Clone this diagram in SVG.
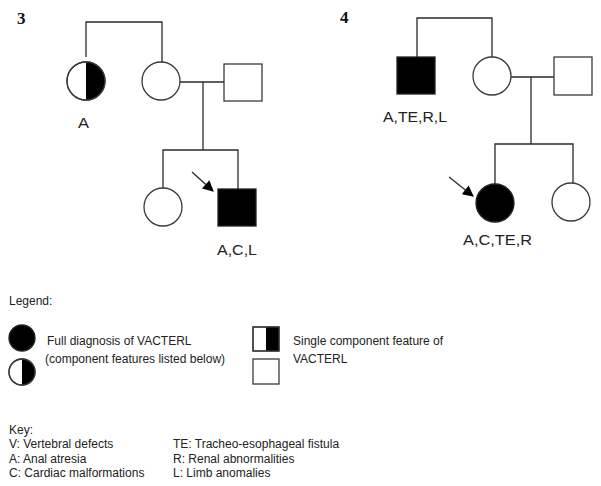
<svg xmlns="http://www.w3.org/2000/svg" width="601" height="486" viewBox="0 0 601 486">
<defs>
<style>
.ln{stroke:#2a2a2a;stroke-width:1.3;fill:none}
.sym{stroke:#3a3a3a;stroke-width:1.3;fill:#fff}
.blk{fill:#000;stroke:#222;stroke-width:1.3}
.half{fill:#000;stroke:none}
.num{font-family:"Liberation Serif",serif;font-weight:bold;font-size:17px;fill:#111}
.lab{font-family:"Liberation Sans",Arial,sans-serif;font-size:14px;fill:#222}
.txt{font-family:"Liberation Sans",Arial,sans-serif;font-size:12px;fill:#222}
</style>
<marker id="ah" viewBox="0 0 10 10" refX="9" refY="5" markerWidth="12" markerHeight="11" markerUnits="userSpaceOnUse" orient="auto">
<path d="M0,0 L10,5 L0,10 z" fill="#000"/>
</marker>
</defs>

<text class="num" x="17" y="24">3</text>
<text class="num" x="340" y="23">4</text>

<g id="connectors">
<!-- pedigree 3 -->
<polyline class="ln" points="86,57 86,22 162,22 162,62"/>
<line class="ln" x1="180" y1="82" x2="224" y2="82"/>
<line class="ln" x1="203" y1="82" x2="203" y2="150"/>
<polyline class="ln" points="163,188 163,150 238,150 238,189"/>
<line class="ln" x1="192" y1="172" x2="213" y2="191" stroke="#000" stroke-width="1.8" marker-end="url(#ah)"/>
<!-- pedigree 4 -->
<polyline class="ln" points="417,57 417,18 492,18 492,57"/>
<line class="ln" x1="511" y1="77" x2="554" y2="77"/>
<line class="ln" x1="531" y1="77" x2="531" y2="144"/>
<polyline class="ln" points="495,184 495,144 573,144 573,183"/>
<line class="ln" x1="449" y1="177" x2="473" y2="196" stroke="#000" stroke-width="1.8" marker-end="url(#ah)"/>
</g>

<!-- pedigree 3 nodes -->
<g id="p3-aunt">
<circle class="sym" cx="86" cy="81" r="19"/>
<path class="half" d="M86,62 A19,19 0 0 1 86,100 z"/>
<circle cx="86" cy="81" r="19" fill="none" stroke="#3a3a3a" stroke-width="1.3"/>
<text class="lab" x="78" y="128" textLength="11" lengthAdjust="spacingAndGlyphs">A</text>
</g>
<g id="p3-mother"><circle class="sym" cx="161" cy="81" r="19"/></g>
<g id="p3-father"><rect class="sym" x="224" y="64" width="38" height="37"/></g>
<g id="p3-sister"><circle class="sym" cx="163" cy="207" r="19"/></g>
<g id="p3-proband">
<rect class="blk" x="218" y="189" width="38" height="37"/>
<text class="lab" x="217" y="255" textLength="40" lengthAdjust="spacingAndGlyphs">A,C,L</text>
</g>

<!-- pedigree 4 nodes -->
<g id="p4-uncle">
<rect class="blk" x="397" y="57" width="38" height="37"/>
<text class="lab" x="383" y="122" textLength="64" lengthAdjust="spacingAndGlyphs">A,TE,R,L</text>
</g>
<g id="p4-mother"><circle class="sym" cx="492" cy="76" r="19"/></g>
<g id="p4-father"><rect class="sym" x="554" y="57" width="38" height="38"/></g>
<g id="p4-proband">
<circle class="blk" cx="495" cy="203" r="19"/>
<text class="lab" x="463" y="245" textLength="69" lengthAdjust="spacingAndGlyphs">A,C,TE,R</text>
</g>
<g id="p4-sister"><circle class="sym" cx="571" cy="202" r="19"/></g>

<!-- legend -->
<g id="legend">
<text class="txt" x="9" y="305">Legend:</text>
<circle class="blk" cx="22" cy="338" r="13"/>
<circle class="sym" cx="22" cy="372" r="13"/>
<path class="half" d="M22,359 A13,13 0 0 1 22,385 z"/>
<circle cx="22" cy="372" r="13" fill="none" stroke="#3a3a3a" stroke-width="1.3"/>
<text class="txt" x="47" y="345">Full diagnosis of VACTERL</text>
<text class="txt" x="45" y="363">(component features listed below)</text>
<rect class="sym" x="253" y="327" width="26" height="24"/>
<rect class="half" x="266" y="327" width="13" height="24"/>
<rect x="253" y="327" width="26" height="24" fill="none" stroke="#3a3a3a" stroke-width="1.3"/>
<rect class="sym" x="253" y="359" width="26" height="25"/>
<text class="txt" x="293" y="345">Single component feature of</text>
<text class="txt" x="293" y="363">VACTERL</text>
</g>

<g id="key">
<text class="txt" x="9" y="434">Key:</text>
<text class="txt" x="9" y="448">V: Vertebral defects</text>
<text class="txt" x="9" y="463">A: Anal atresia</text>
<text class="txt" x="9" y="477">C: Cardiac malformations</text>
<text class="txt" x="173" y="448">TE: Tracheo-esophageal fistula</text>
<text class="txt" x="173" y="463">R: Renal abnormalities</text>
<text class="txt" x="173" y="477">L: Limb anomalies</text>
</g>
</svg>
